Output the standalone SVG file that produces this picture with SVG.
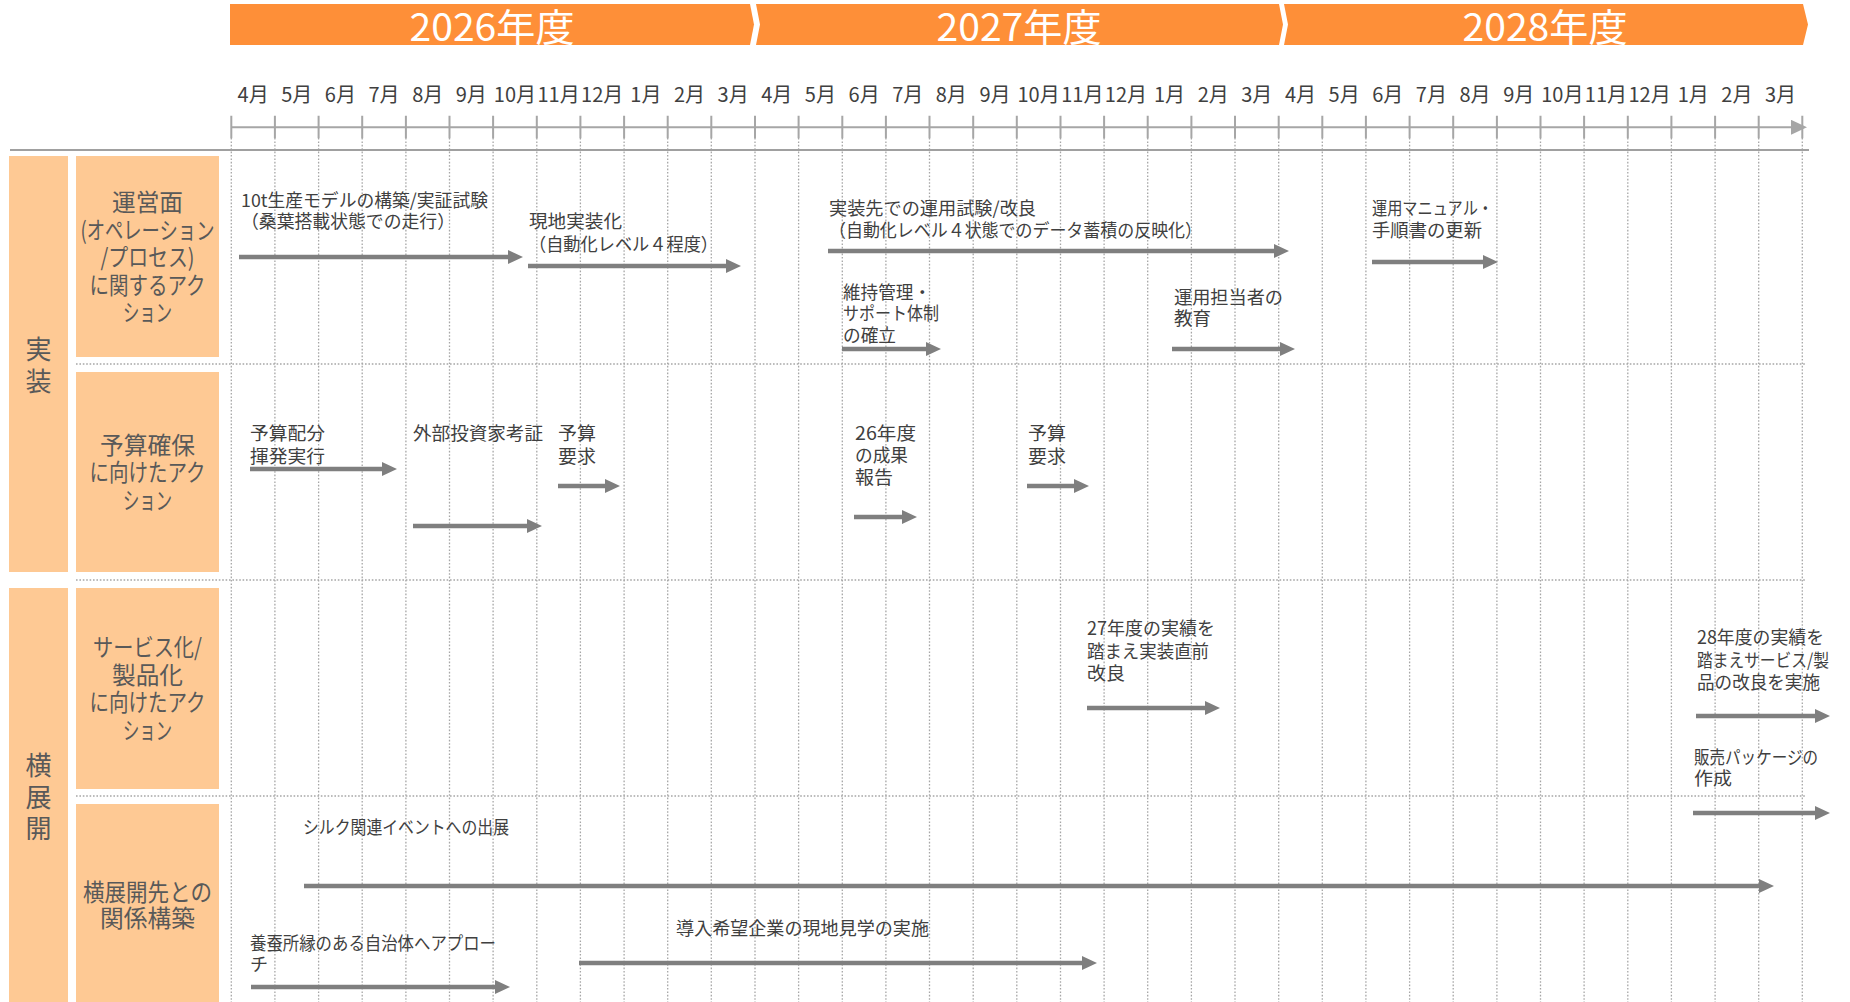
<svg xmlns="http://www.w3.org/2000/svg" width="1850" height="1002" viewBox="0 0 1850 1002">
<style>
text{font-family:"Noto Sans CJK JP","Noto Sans",sans-serif}
.yr{fill:#fff;font-size:38px;text-anchor:middle}
.mo{fill:#404040;font-size:20px;text-anchor:middle}
.big{fill:#595959;font-size:26px;text-anchor:middle}
.sub{fill:#595959;font-size:24px;text-anchor:middle}
.lb{fill:#404040;font-size:18px}
.bar{fill:#fe8f38}
.box{fill:#fec994}
.grid{stroke:#a6a6a6;stroke-width:1.3;stroke-dasharray:1.6 1.8;fill:none}
.axis{stroke:#a6a6a6;stroke-width:2;fill:none}
.arr{stroke:#7f7f7f;stroke-width:4.5;fill:none;marker-end:url(#ah)}
</style>
<defs>
<marker id="ah" markerUnits="userSpaceOnUse" markerWidth="15" markerHeight="14" refX="1" refY="7" orient="auto"><path d="M0,0 L15,7 L0,14 z" fill="#7f7f7f"/></marker>
<marker id="axh" markerUnits="userSpaceOnUse" markerWidth="16" markerHeight="15" refX="1" refY="7.5" orient="auto"><path d="M0,0 L16,7.5 L0,15 z" fill="#a6a6a6"/></marker>
</defs>
<rect width="1850" height="1002" fill="#fff"/>

<g id="years">
<polygon class="bar" points="230,4 750,4 754,24.5 750,45 230,45"/>
<polygon class="bar" points="756,4 1279,4 1283,24.5 1279,45 756,45 760,24.5"/>
<polygon class="bar" points="1284,4 1803,4 1808,24.5 1803,45 1284,45 1288,24.5"/>
<text class="yr" x="492" y="41" textLength="165" lengthAdjust="spacingAndGlyphs">2026年度</text>
<text class="yr" x="1019" y="41" textLength="165" lengthAdjust="spacingAndGlyphs">2027年度</text>
<text class="yr" x="1545" y="41" textLength="165" lengthAdjust="spacingAndGlyphs">2028年度</text>
</g>

<g id="months">
<text class="mo" x="253.1" y="102">4月</text><text class="mo" x="296.7" y="102">5月</text><text class="mo" x="340.4" y="102">6月</text><text class="mo" x="384.0" y="102">7月</text><text class="mo" x="427.7" y="102">8月</text><text class="mo" x="471.3" y="102">9月</text><text class="mo" x="514.9" y="102">10月</text><text class="mo" x="558.6" y="102">11月</text><text class="mo" x="602.2" y="102">12月</text><text class="mo" x="645.9" y="102">1月</text><text class="mo" x="689.5" y="102">2月</text><text class="mo" x="733.1" y="102">3月</text>
<text class="mo" x="776.8" y="102">4月</text><text class="mo" x="820.4" y="102">5月</text><text class="mo" x="864.1" y="102">6月</text><text class="mo" x="907.7" y="102">7月</text><text class="mo" x="951.3" y="102">8月</text><text class="mo" x="995.0" y="102">9月</text><text class="mo" x="1038.6" y="102">10月</text><text class="mo" x="1082.3" y="102">11月</text><text class="mo" x="1125.9" y="102">12月</text><text class="mo" x="1169.5" y="102">1月</text><text class="mo" x="1213.2" y="102">2月</text><text class="mo" x="1256.8" y="102">3月</text>
<text class="mo" x="1300.5" y="102">4月</text><text class="mo" x="1344.1" y="102">5月</text><text class="mo" x="1387.7" y="102">6月</text><text class="mo" x="1431.4" y="102">7月</text><text class="mo" x="1475.0" y="102">8月</text><text class="mo" x="1518.7" y="102">9月</text><text class="mo" x="1562.3" y="102">10月</text><text class="mo" x="1605.9" y="102">11月</text><text class="mo" x="1649.6" y="102">12月</text><text class="mo" x="1693.2" y="102">1月</text><text class="mo" x="1736.9" y="102">2月</text><text class="mo" x="1780.5" y="102">3月</text>
</g>

<g id="grid">
<path class="grid" d="M231.3,138V1002M274.9,138V1002M318.6,138V1002M362.2,138V1002M405.9,138V1002M449.5,138V1002M493.1,138V1002M536.8,138V1002M580.4,138V1002M624.1,138V1002M667.7,138V1002M711.3,138V1002M755.0,138V1002M798.6,138V1002M842.3,138V1002M885.9,138V1002M929.5,138V1002M973.2,138V1002M1016.8,138V1002M1060.5,138V1002M1104.1,138V1002M1147.7,138V1002M1191.4,138V1002M1235.0,138V1002M1278.7,138V1002M1322.3,138V1002M1365.9,138V1002M1409.6,138V1002M1453.2,138V1002M1496.9,138V1002M1540.5,138V1002M1584.1,138V1002M1627.8,138V1002M1671.4,138V1002M1715.1,138V1002M1758.7,138V1002M1802.3,138V1002"/>
<path class="grid" d="M76,364H1805M76,580H1805M76,796H1805"/>
</g>

<g id="axis">
<path class="axis" d="M231.3,115.7V138.3M274.9,115.7V138.3M318.6,115.7V138.3M362.2,115.7V138.3M405.9,115.7V138.3M449.5,115.7V138.3M493.1,115.7V138.3M536.8,115.7V138.3M580.4,115.7V138.3M624.1,115.7V138.3M667.7,115.7V138.3M711.3,115.7V138.3M755.0,115.7V138.3M798.6,115.7V138.3M842.3,115.7V138.3M885.9,115.7V138.3M929.5,115.7V138.3M973.2,115.7V138.3M1016.8,115.7V138.3M1060.5,115.7V138.3M1104.1,115.7V138.3M1147.7,115.7V138.3M1191.4,115.7V138.3M1235.0,115.7V138.3M1278.7,115.7V138.3M1322.3,115.7V138.3M1365.9,115.7V138.3M1409.6,115.7V138.3M1453.2,115.7V138.3M1496.9,115.7V138.3M1540.5,115.7V138.3M1584.1,115.7V138.3M1627.8,115.7V138.3M1671.4,115.7V138.3M1715.1,115.7V138.3M1758.7,115.7V138.3M1802.3,115.7V138.3"/>
<line x1="231.3" y1="127.3" x2="1792" y2="127.3" stroke="#a6a6a6" stroke-width="2" marker-end="url(#axh)"/>
<line x1="10" y1="150" x2="1809" y2="150" stroke="#a0a0a0" stroke-width="2"/>
</g>

<g id="cat-jisso">
<rect class="box" x="9" y="156" width="59" height="416"/>
<text class="big" x="38.5" y="359">実</text>
<text class="big" x="38.5" y="391">装</text>
</g>
<g id="cat-yokotenkai">
<rect class="box" x="9" y="588" width="59" height="414"/>
<text class="big" x="38.5" y="775">横</text>
<text class="big" x="38.5" y="807">展</text>
<text class="big" x="38.5" y="838">開</text>
</g>

<g id="row-operation">
<rect class="box" x="76" y="156" width="143" height="201"/>
<text class="sub" x="147.5" y="211" textLength="71" lengthAdjust="spacingAndGlyphs">運営面</text>
<text class="sub" x="147.5" y="239" textLength="134" lengthAdjust="spacingAndGlyphs">(オペレーション</text>
<text class="sub" x="147.5" y="266" textLength="94" lengthAdjust="spacingAndGlyphs">/プロセス)</text>
<text class="sub" x="147.5" y="294" textLength="116" lengthAdjust="spacingAndGlyphs">に関するアク</text>
<text class="sub" x="147.5" y="321" textLength="49" lengthAdjust="spacingAndGlyphs">ション</text>
</g>
<g id="row-budget">
<rect class="box" x="76" y="372" width="143" height="200"/>
<text class="sub" x="147.5" y="454" textLength="95" lengthAdjust="spacingAndGlyphs">予算確保</text>
<text class="sub" x="147.5" y="481" textLength="116" lengthAdjust="spacingAndGlyphs">に向けたアク</text>
<text class="sub" x="147.5" y="509" textLength="49" lengthAdjust="spacingAndGlyphs">ション</text>
</g>
<g id="row-service">
<rect class="box" x="76" y="588" width="143" height="201"/>
<text class="sub" x="147.5" y="656" textLength="109" lengthAdjust="spacingAndGlyphs">サービス化/</text>
<text class="sub" x="147.5" y="684" textLength="71" lengthAdjust="spacingAndGlyphs">製品化</text>
<text class="sub" x="147.5" y="711" textLength="116" lengthAdjust="spacingAndGlyphs">に向けたアク</text>
<text class="sub" x="147.5" y="739" textLength="49" lengthAdjust="spacingAndGlyphs">ション</text>
</g>
<g id="row-relation">
<rect class="box" x="76" y="804" width="143" height="198"/>
<text class="sub" x="147.5" y="901" textLength="129" lengthAdjust="spacingAndGlyphs">横展開先との</text>
<text class="sub" x="147.5" y="927" textLength="95" lengthAdjust="spacingAndGlyphs">関係構築</text>
</g>

<g id="labels">
<text class="lb" x="241" y="206.5" textLength="247" lengthAdjust="spacingAndGlyphs">10t生産モデルの構築/実証試験</text>
<text class="lb" x="241" y="227.5" textLength="214" lengthAdjust="spacingAndGlyphs">（桑葉搭載状態での走行）</text>
<text class="lb" x="529" y="227.5" textLength="93" lengthAdjust="spacingAndGlyphs">現地実装化</text>
<text class="lb" x="529" y="250.5" textLength="189" lengthAdjust="spacingAndGlyphs">（自動化レベル４程度）</text>
<text class="lb" x="829" y="214.5" textLength="207" lengthAdjust="spacingAndGlyphs">実装先での運用試験/改良</text>
<text class="lb" x="829" y="236.5" textLength="373" lengthAdjust="spacingAndGlyphs">（自動化レベル４状態でのデータ蓄積の反映化）</text>
<text class="lb" x="843" y="298.5" textLength="88" lengthAdjust="spacingAndGlyphs">維持管理・</text>
<text class="lb" x="843" y="319.5" textLength="96" lengthAdjust="spacingAndGlyphs">サポート体制</text>
<text class="lb" x="843" y="341.5" textLength="53" lengthAdjust="spacingAndGlyphs">の確立</text>
<text class="lb" x="1174" y="303.5" textLength="109" lengthAdjust="spacingAndGlyphs">運用担当者の</text>
<text class="lb" x="1174" y="324.5" textLength="37" lengthAdjust="spacingAndGlyphs">教育</text>
<text class="lb" x="1372" y="214.5" textLength="121" lengthAdjust="spacingAndGlyphs">運用マニュアル・</text>
<text class="lb" x="1372" y="236.5" textLength="110" lengthAdjust="spacingAndGlyphs">手順書の更新</text>

<text class="lb" x="250" y="439.5" textLength="75" lengthAdjust="spacingAndGlyphs">予算配分</text>
<text class="lb" x="250" y="462.5" textLength="75" lengthAdjust="spacingAndGlyphs">揮発実行</text>
<text class="lb" x="413" y="439.5" textLength="130" lengthAdjust="spacingAndGlyphs">外部投資家考証</text>
<text class="lb" x="558" y="439.5" textLength="38" lengthAdjust="spacingAndGlyphs">予算</text>
<text class="lb" x="558" y="462.5" textLength="38" lengthAdjust="spacingAndGlyphs">要求</text>
<text class="lb" x="855" y="439.5" textLength="61" lengthAdjust="spacingAndGlyphs">26年度</text>
<text class="lb" x="855" y="461.5" textLength="53" lengthAdjust="spacingAndGlyphs">の成果</text>
<text class="lb" x="855" y="483.5" textLength="38" lengthAdjust="spacingAndGlyphs">報告</text>
<text class="lb" x="1028" y="439.5" textLength="38" lengthAdjust="spacingAndGlyphs">予算</text>
<text class="lb" x="1028" y="462.5" textLength="38" lengthAdjust="spacingAndGlyphs">要求</text>

<text class="lb" x="1087" y="634.5" textLength="128" lengthAdjust="spacingAndGlyphs">27年度の実績を</text>
<text class="lb" x="1087" y="657.5" textLength="122" lengthAdjust="spacingAndGlyphs">踏まえ実装直前</text>
<text class="lb" x="1087" y="679.5" textLength="38" lengthAdjust="spacingAndGlyphs">改良</text>
<text class="lb" x="1697" y="643.5" textLength="127" lengthAdjust="spacingAndGlyphs">28年度の実績を</text>
<text class="lb" x="1697" y="666.5" textLength="132" lengthAdjust="spacingAndGlyphs">踏まえサービス/製</text>
<text class="lb" x="1697" y="688.5" textLength="123" lengthAdjust="spacingAndGlyphs">品の改良を実施</text>
<text class="lb" x="1694" y="763.5" textLength="124" lengthAdjust="spacingAndGlyphs">販売パッケージの</text>
<text class="lb" x="1694" y="784.5" textLength="38" lengthAdjust="spacingAndGlyphs">作成</text>

<text class="lb" x="303" y="833.5" textLength="206" lengthAdjust="spacingAndGlyphs">シルク関連イベントへの出展</text>
<text class="lb" x="250" y="949.5" textLength="246" lengthAdjust="spacingAndGlyphs">養蚕所縁のある自治体へアプロー</text>
<text class="lb" x="250" y="970.5">チ</text>
<text class="lb" x="676" y="934.5" textLength="253" lengthAdjust="spacingAndGlyphs">導入希望企業の現地見学の実施</text>
</g>

<g id="connectors">
<line class="arr" x1="239" y1="257" x2="509" y2="257"/>
<line class="arr" x1="528" y1="266" x2="727" y2="266"/>
<line class="arr" x1="828" y1="251" x2="1275" y2="251"/>
<line class="arr" x1="842" y1="349" x2="927" y2="349"/>
<line class="arr" x1="1172" y1="349" x2="1281" y2="349"/>
<line class="arr" x1="1372" y1="262" x2="1484" y2="262"/>
<line class="arr" x1="250" y1="469" x2="383" y2="469"/>
<line class="arr" x1="413" y1="526" x2="528" y2="526"/>
<line class="arr" x1="558" y1="486" x2="606" y2="486"/>
<line class="arr" x1="854" y1="517" x2="903" y2="517"/>
<line class="arr" x1="1027" y1="486" x2="1075" y2="486"/>
<line class="arr" x1="1087" y1="708" x2="1206" y2="708"/>
<line class="arr" x1="1696" y1="716" x2="1816" y2="716"/>
<line class="arr" x1="1693" y1="813" x2="1816" y2="813"/>
<line class="arr" x1="304" y1="886" x2="1760" y2="886"/>
<line class="arr" x1="251" y1="987" x2="496" y2="987"/>
<line class="arr" x1="579" y1="963" x2="1083" y2="963"/>
</g>
</svg>
